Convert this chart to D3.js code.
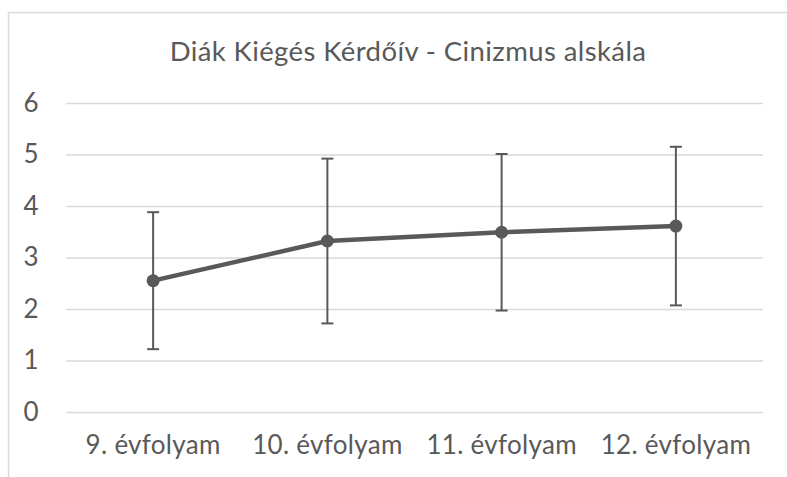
<!DOCTYPE html>
<html>
<head>
<meta charset="utf-8">
<script src="https://cdn.jsdelivr.net/npm/d3@7"></script>
<style>
  body { margin: 0; background: #fff; }
  text { font-family: Lato, "Open Sans", sans-serif; fill: #595959; }
</style>
</head>
<body>
<div id="chart"></div>
<script>
// chart data
const categories = ['9. évfolyam', '10. évfolyam', '11. évfolyam', '12. évfolyam'];
const means = [2.55, 3.32, 3.49, 3.61];
const sds = [1.33, 1.60, 1.52, 1.54];
const yTicks = [0, 1, 2, 3, 4, 5, 6];
const title = 'Diák Kiégés Kérdőív - Cinizmus alskála';

const WIDTH = 787;
const HEIGHT = 477;
const MARGIN = { TOP: 103, BOTTOM: 65, LEFT: 66, RIGHT: 24 };
const GREY = '#595959';

const svg = d3.select('#chart')
  .append('svg')
    .attr('width', WIDTH)
    .attr('height', HEIGHT);

// outer chart frame (cropped at right and bottom)
svg.append('path')
   .attr('d', `M8.5,${HEIGHT}V12.5H${WIDTH}`)
   .attr('fill', 'none')
   .attr('stroke', '#d9d9d9')
   .attr('stroke-width', 1.5);

const x = d3.scaleBand()
  .domain(categories)
  .range([MARGIN.LEFT, WIDTH - MARGIN.RIGHT]);

const y = d3.scaleLinear()
  .domain([0, 6])
  .range([HEIGHT - MARGIN.BOTTOM, MARGIN.TOP]);

svg.append('text')
   .attr('x', 408)
   .attr('y', 61)
   .attr('text-anchor', 'middle')
   .style('font-size', '27.5px')
   .style('letter-spacing', '0.4px')
   .text(title);

// gridlines + y labels
const yAxis = svg.append('g')
  .attr('transform', `translate(${MARGIN.LEFT},0)`)
  .call(d3.axisLeft(y).tickValues(yTicks).tickFormat(d3.format('d'))
        .tickSize(-(WIDTH - MARGIN.LEFT - MARGIN.RIGHT)).tickPadding(28));
yAxis.select('.domain').remove();
yAxis.selectAll('.tick line').attr('stroke', '#d9d9d9').attr('stroke-width', 1.5);
yAxis.selectAll('.tick text')
     .attr('text-anchor', 'middle')
     .attr('dx', -7)
     .style('font-size', '26px')
     .style('font-family', 'Lato, sans-serif')
     .attr('fill', GREY);

// x labels
const xAxis = svg.append('g')
  .attr('transform', `translate(0,${HEIGHT - MARGIN.BOTTOM})`)
  .call(d3.axisBottom(x).tickSize(0).tickPadding(24));
xAxis.select('.domain').remove();
xAxis.selectAll('.tick text')
     .style('font-size', '26px')
     .style('letter-spacing', '0.3px')
     .style('font-family', 'Lato, sans-serif')
     .attr('fill', GREY);

const cx = d => x(d) + x.bandwidth() / 2;
const points = categories.map((c, i) => ({ c: c, m: means[i], s: sds[i] }));

// error bars
const err = svg.append('g')
  .attr('stroke', GREY)
  .attr('stroke-width', 2);
err.selectAll('.bar').data(points).enter().append('line')
   .attr('x1', d => cx(d.c)).attr('x2', d => cx(d.c))
   .attr('y1', d => y(d.m - d.s)).attr('y2', d => y(d.m + d.s));
err.selectAll('.capTop').data(points).enter().append('line')
   .attr('x1', d => cx(d.c) - 6).attr('x2', d => cx(d.c) + 6)
   .attr('y1', d => y(d.m + d.s)).attr('y2', d => y(d.m + d.s));
err.selectAll('.capBot').data(points).enter().append('line')
   .attr('x1', d => cx(d.c) - 6).attr('x2', d => cx(d.c) + 6)
   .attr('y1', d => y(d.m - d.s)).attr('y2', d => y(d.m - d.s));

// mean line
svg.append('path')
   .datum(points)
   .attr('fill', 'none')
   .attr('stroke', GREY)
   .attr('stroke-width', 4.5)
   .attr('stroke-linejoin', 'round')
   .attr('d', d3.line().x(d => cx(d.c)).y(d => y(d.m)));

svg.selectAll('.dot').data(points).enter().append('circle')
   .attr('cx', d => cx(d.c))
   .attr('cy', d => y(d.m))
   .attr('r', 6.5)
   .attr('fill', GREY);
</script>
</body>
</html>
